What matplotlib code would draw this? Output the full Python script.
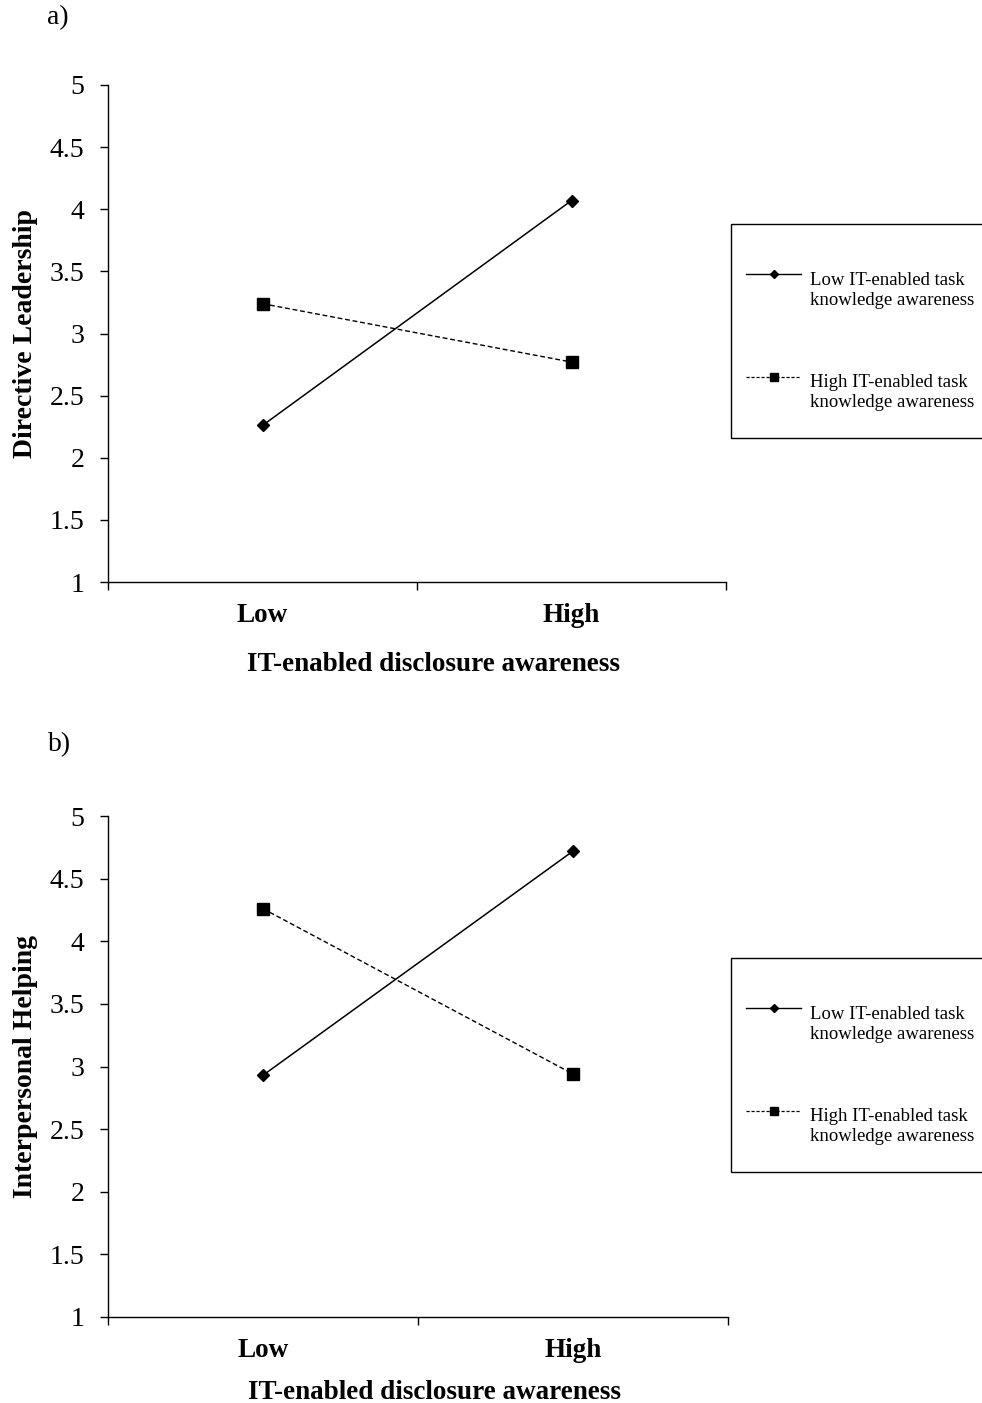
import matplotlib

matplotlib.use("Agg")
import matplotlib.pyplot as plt
from matplotlib.legend_handler import HandlerLine2D
from matplotlib.lines import Line2D
from matplotlib.patches import Rectangle

plt.rcParams["font.family"] = ["Liberation Serif", "DejaVu Serif"]

# --- datos ---
categorias = ["Low", "High"]
series = [
    "Low IT-enabled task\nknowledge awareness",
    "High IT-enabled task\nknowledge awareness",
]
directiva_low_task = [2.26, 4.07]
directiva_high_task = [3.24, 2.77]
ayuda_low_task = [2.93, 4.72]
ayuda_high_task = [4.26, 2.94]
yticks = [1, 1.5, 2, 2.5, 3, 3.5, 4, 4.5, 5]
ytick_labels = ["1", "1.5", "2", "2.5", "3", "3.5", "4", "4.5", "5"]

W, H = 982, 1403
fig = plt.figure(figsize=(W / 100, H / 100), dpi=100)


def fx(px):
    return px / W


def fy(py):
    return 1 - py / H


class HandlerArriba(HandlerLine2D):
    """Coloca el símbolo de la leyenda a la altura de la primera línea del texto."""

    def create_artists(self, legend, orig_handle, xdescent, ydescent, width, height,
                       fontsize, trans):
        return super().create_artists(legend, orig_handle, xdescent,
                                      ydescent - 1.7 * fontsize, width, height,
                                      fontsize, trans)


def panel(rect_px, low_vals, high_vals, ylabel, letter, letter_pos, legend_top, box, xlabel_y):
    left, top, right, bottom = rect_px
    ax = fig.add_axes([fx(left), fy(bottom), fx(right - left), fy(top) - fy(bottom)])
    xs = [0.5, 1.5]
    ax.plot(xs, low_vals, color="black", lw=1.1, marker="D", ms=6.5)
    ax.plot(xs, high_vals, color="black", lw=1.0, ls=(0, (3.5, 2)), marker="s", ms=8.5)

    ax.set_xlim(0, 2)
    ax.set_ylim(1, 5)
    for s in ("top", "right"):
        ax.spines[s].set_visible(False)
    for s in ("left", "bottom"):
        ax.spines[s].set_linewidth(1.0)

    ax.set_yticks(yticks)
    ax.set_yticklabels(ytick_labels, fontsize=20)
    ax.tick_params(axis="y", direction="out", length=6, width=1, pad=11)

    # eje de categorías al estilo Excel: marcas en los bordes, etiquetas al centro
    ax.set_xticks([0, 1, 2])
    ax.set_xticklabels([])
    ax.tick_params(axis="x", which="major", direction="out", length=6, width=1)
    ax.set_xticks(xs, minor=True)
    ax.set_xticklabels(categorias, minor=True, fontsize=19.5, fontweight="bold")
    ax.tick_params(axis="x", which="minor", length=0, pad=15)

    ax.set_ylabel(ylabel, fontsize=20, fontweight="bold")
    ax.yaxis.set_label_coords(-0.113, 0.5)
    ax.set_xlabel("IT-enabled disclosure awareness", fontsize=19.5, fontweight="bold")
    ax.xaxis.set_label_coords(0.526, xlabel_y)

    fig.text(fx(letter_pos[0]), fy(letter_pos[1]), letter, fontsize=20,
             ha="left", va="center")

    bl, bt, br, bb = box
    fig.add_artist(Rectangle((fx(bl), fy(bb)), fx(br - bl), fy(bt) - fy(bb),
                             transform=fig.transFigure, fill=False,
                             edgecolor="black", lw=1.0))
    handles = [
        Line2D([], [], color="black", lw=1.0, marker="D", ms=4.5),
        Line2D([], [], color="black", lw=0.9, ls=(0, (2.5, 1.5)), marker="s", ms=5.5),
    ]
    ax.legend(handles, series, loc="upper left",
              bbox_to_anchor=(fx(746), fy(legend_top)), bbox_transform=fig.transFigure,
              frameon=False, fontsize=13.5, borderpad=0, borderaxespad=0,
              handlelength=2.95, handletextpad=0.45, labelspacing=3.5,
              handler_map={Line2D: HandlerArriba()})
    return ax


panel((108, 85, 726, 582), directiva_low_task, directiva_high_task,
      "Directive Leadership", "a)", (47, 18), 272, (731, 224, 990, 438), -0.141)
panel((108, 816, 728, 1317), ayuda_low_task, ayuda_high_task,
      "Interpersonal Helping", "b)", (48, 745), 1006, (731, 958, 990, 1172), -0.126)

fig.savefig("out.png", dpi=100)
